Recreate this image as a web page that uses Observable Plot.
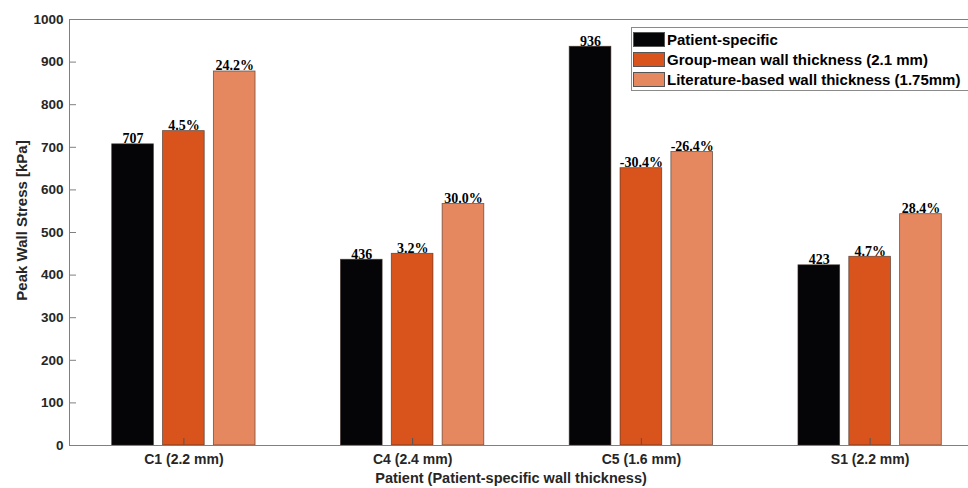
<!DOCTYPE html>
<html><head><meta charset="utf-8">
<script src="https://cdn.jsdelivr.net/npm/d3@7"></script>
<script src="https://cdn.jsdelivr.net/npm/@observablehq/plot@0.6"></script>
<style>
body{margin:0;background:#fff;}
#wrap{position:relative;width:968px;height:488px;overflow:hidden;background:#fff;}
#legend{position:absolute;left:631px;top:27px;width:350px;height:64px;border:1px solid #8a8a8a;background:#fff;box-sizing:border-box;font:bold 15px "Liberation Sans",Arial,sans-serif;color:#000;}
#legend .row{position:absolute;left:1px;height:15px;display:flex;align-items:center;white-space:nowrap;}
#legend .sw{width:32px;height:15px;box-sizing:border-box;border:1px solid #555;margin-right:2px;flex:none;}
</style></head>
<body><div id="wrap"><div id="chart"></div><div id="legend"></div></div>
<script>
const patients = ["C1 (2.2 mm)", "C4 (2.4 mm)", "C5 (1.6 mm)", "S1 (2.2 mm)"];
const seriesNames = ["Patient-specific", "Group-mean wall thickness (2.1 mm)", "Literature-based wall thickness (1.75mm)"];
const seriesColors = ["#050508", "#d9531c", "#e6885f"];
const patientSpecific = [707, 436, 936, 423];
const groupMean = [738, 450, 651, 443];
const literature = [878, 567, 689, 543];
const patientLabels = ["707", "436", "936", "423"];
const groupMeanLabels = ["4.5%", "3.2%", "-30.4%", "4.7%"];
const literatureLabels = ["24.2%", "30.0%", "-26.4%", "28.4%"];
const yTicks = [0, 100, 200, 300, 400, 500, 600, 700, 800, 900, 1000];

const seriesValues = [patientSpecific, groupMean, literature];
const seriesLabels = [patientLabels, groupMeanLabels, literatureLabels];
const groupWidth = 2 / 3;
const barStep = groupWidth / 3;
const barWidth = barStep * 0.82;

const rows = [];
patients.forEach((p, i) => {
  seriesValues.forEach((vals, k) => {
    const c = i + 1 + (k - 1) * barStep;
    rows.push({g: i + 1, k, c, x1: c - barWidth / 2, x2: c + barWidth / 2, value: vals[i], label: seriesLabels[k][i], color: seriesColors[k]});
  });
});

const font = '"Liberation Sans", Arial, sans-serif';
const chart = Plot.plot({
  width: 968, height: 488,
  marginLeft: 69, marginRight: 0, marginTop: 19, marginBottom: 43,
  style: {fontFamily: font, fontSize: "14px", fontWeight: "bold", color: "#262626", background: "#fff"},
  x: {domain: [0.5, 4.5], range: [69, 984]},
  y: {domain: [0, 1000]},
  color: {type: "identity"},
  marks: [
    Plot.rectY(rows, {x1: "x1", x2: "x2", y1: 0, y2: "value", fill: "color", stroke: "#3a2a22", strokeWidth: 0.8, strokeOpacity: 0.7}),
    Plot.ruleY([0, 1000], {stroke: "#808080", strokeWidth: 1}),
    Plot.ruleX([0.5], {stroke: "#808080", strokeWidth: 1}),
    Plot.axisY({ticks: yTicks, tickFormat: d3.format("d"), tickSize: -7, tickPadding: 13, stroke: "#808080", fill: "#262626", fontWeight: "bold", fontSize: 13.5,
      label: null}),
    Plot.text(["Peak Wall Stress [kPa]"], {frameAnchor: "left", textAnchor: "middle", rotate: -90, dx: -47, dy: -12, text: d => d, fill: "#262626", fontSize: 15, fontWeight: "bold", fontFamily: font}),
    Plot.axisX({ticks: [1, 2, 3, 4], tickFormat: d => patients[d - 1], tickSize: -7, tickPadding: 16, stroke: "#555", fill: "#262626", fontWeight: "bold", fontSize: 14,
      label: null}),
    Plot.text(["Patient (Patient-specific wall thickness)"], {frameAnchor: "bottom", dx: -8, dy: 37, text: d => d, fill: "#262626", fontSize: 14.5, fontWeight: "bold", fontFamily: font}),
    Plot.text(rows, {x: "c", y: "value", text: "label", lineAnchor: "bottom", dy: -1, fill: "#000",
      fontFamily: '"Liberation Serif", "Times New Roman", serif', fontWeight: "bold", fontSize: 14})
  ]
});
document.getElementById("chart").appendChild(chart);

const legend = document.getElementById("legend");
seriesNames.forEach((n, k) => {
  const row = document.createElement("div");
  row.className = "row";
  row.style.top = (4 + k * 20) + "px";
  row.innerHTML = `<div class="sw" style="background:${seriesColors[k]}"></div><span>${n}</span>`;
  legend.appendChild(row);
});
</script>
</body></html>
